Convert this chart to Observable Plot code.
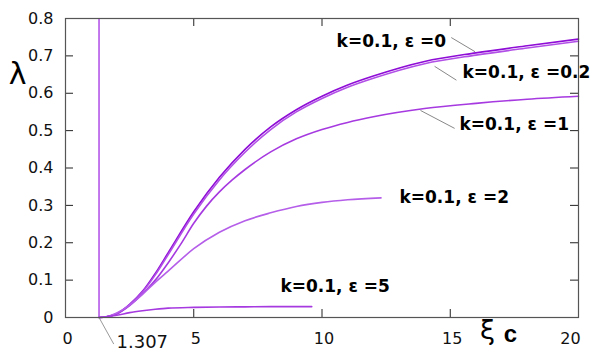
<!DOCTYPE html>
<html><head><meta charset="utf-8">
<script src="https://cdn.jsdelivr.net/npm/d3@7"></script>
<script src="https://cdn.jsdelivr.net/npm/@observablehq/plot@0.6"></script>
<style>body{margin:0;background:#fff} svg{display:block}</style>
</head><body><div id="chart"></div>
<script>
// ---- data ----
const xiC0 = 1.307; // critical value marked on the axis
const xi_e0   = [1.307, 1.6, 2, 2.5, 3, 3.5, 4, 5, 6, 7, 8, 9, 10, 11, 12, 14, 16, 18, 20];
const lam_e0  = [0, 0.002, 0.010, 0.035, 0.070, 0.118, 0.173, 0.283, 0.375, 0.450, 0.510, 0.556, 0.592, 0.622, 0.646, 0.685, 0.708, 0.727, 0.745];
const xi_e02  = [1.307, 1.6, 2, 2.5, 3, 3.5, 4, 5, 6, 7, 8, 9, 10, 11, 12, 14, 16, 18, 20];
const lam_e02 = [0, 0.002, 0.010, 0.034, 0.068, 0.114, 0.168, 0.277, 0.368, 0.442, 0.503, 0.550, 0.586, 0.616, 0.640, 0.679, 0.702, 0.721, 0.739];
const xi_e1   = [1.307, 1.6, 2, 2.5, 3, 3.5, 4, 4.5, 5, 5.5, 6, 6.5, 7, 8, 9, 10, 11, 12, 14, 16, 18, 20];
const lam_e1  = [0, 0.002, 0.010, 0.032, 0.063, 0.100, 0.146, 0.197, 0.252, 0.298, 0.336, 0.368, 0.396, 0.443, 0.478, 0.503, 0.522, 0.537, 0.559, 0.573, 0.584, 0.592];
const xi_e2   = [1.307, 1.6, 2, 2.5, 3, 3.5, 4, 5, 6, 7, 8, 9, 10, 11, 12.3];
const lam_e2  = [0, 0.002, 0.012, 0.033, 0.062, 0.094, 0.124, 0.184, 0.228, 0.259, 0.280, 0.297, 0.308, 0.315, 0.320];
const xi_e5   = [1.307, 2, 2.5, 3, 3.5, 4, 5, 6, 7, 8, 9.6];
const lam_e5  = [0, 0.006, 0.013, 0.018, 0.022, 0.025, 0.027, 0.028, 0.0285, 0.029, 0.029];

const seriesNames = ["ε=0", "ε=0.2", "ε=1", "ε=2", "ε=5"];
const labelTexts = ["k=0.1, ε =0", "k=0.1, ε =0.2", "k=0.1, ε =1", "k=0.1, ε =2", "k=0.1, ε =5"];
const xTicks = [0, 5, 10, 15, 20];
const yTicks = [0, 0.1, 0.2, 0.3, 0.4, 0.5, 0.6, 0.7, 0.8];

// ---- annotation anchors (data coordinates) ----
const labelXi  = [10.57, 15.48, 15.36, 13.02, 8.38];
const labelLam = [0.739, 0.656, 0.517, 0.321, 0.082];
const leaders = [
  {x1: 15.04, y1: 0.749, x2: 15.97, y2: 0.711},
  {x1: 14.39, y1: 0.672, x2: 15.24, y2: 0.635},
  {x1: 13.84, y1: 0.554, x2: 15.17, y2: 0.506}
];

// ---- build tables ----
const xis = [xi_e0, xi_e02, xi_e1, xi_e2, xi_e5];
const lams = [lam_e0, lam_e02, lam_e1, lam_e2, lam_e5];
const rows = [];
seriesNames.forEach((s, i) => xis[i].forEach((x, j) => rows.push({series: s, xi: x, lam: lams[i][j]})));
const labels = labelTexts.map((t, i) => ({text: t, xi: labelXi[i], lam: labelLam[i]}));

const colors = ["#8e0cd6", "#b14fe6", "#a63ae0", "#b55ee9", "#a63ae0"];
const W = 598, H = 356, ML = 65, MR = 20, MT = 18, MB = 39;
const innerW = W - ML - MR, innerH = H - MT - MB;
const TL = 8;
const tickFont = "DejaVu Sans, Verdana, sans-serif";

const plot = Plot.plot({
  width: W, height: H,
  marginLeft: ML, marginRight: MR, marginTop: MT, marginBottom: MB,
  style: {background: "#fff", color: "#111", fontFamily: tickFont},
  x: {domain: [0, 20]},
  y: {domain: [0, 0.8]},
  color: {domain: seriesNames, range: colors},
  marks: [
    // tick labels
    Plot.axisY({ticks: yTicks, tickSize: 0, tickPadding: 12, fontSize: 16, label: null,
      tickFormat: d => d === 0 ? "0" : d.toFixed(1)}),
    Plot.axisX({ticks: xTicks.slice(0, 4), tickSize: 0, tickPadding: 15, fontSize: 16, label: null,
      tickFormat: d => String(d), dx: 2}),
    Plot.axisX({ticks: xTicks.slice(4), tickSize: 0, tickPadding: 15, fontSize: 16, label: null,
      tickFormat: d => String(d), dx: -8}),
    // inner ticks
    Plot.tickX(xTicks.slice(1, 4), {x: d => d, insetTop: innerH - TL, stroke: "#222"}),
    Plot.tickX(xTicks.slice(1, 4), {x: d => d, insetBottom: innerH - TL, stroke: "#222"}),
    Plot.tickY(yTicks.slice(1, 8), {y: d => d, insetRight: innerW - TL, stroke: "#222"}),
    Plot.tickY(yTicks.slice(1, 8), {y: d => d, insetLeft: innerW - TL, stroke: "#222"}),
    // critical line
    Plot.ruleX([xiC0], {x: d => d, y1: yTicks[0], y2: yTicks[yTicks.length - 1], stroke: "#9a1ee0", strokeWidth: 1.2}),
    // curves
    Plot.line(rows, {x: "xi", y: "lam", z: "series", stroke: "series", strokeWidth: 1.6, curve: "monotone-x"}),
    // leader lines
    Plot.link(leaders, {x1: "x1", y1: "y1", x2: "x2", y2: "y2", stroke: "#888", strokeWidth: 1}),
    Plot.link([{x1: xiC0, y1: 0, x2: 1.88, y2: -0.071}], {x1: "x1", y1: "y1", x2: "x2", y2: "y2", stroke: "#999", strokeWidth: 1, clip: false}),
    // curve labels
    Plot.text(labels, {x: "xi", y: "lam", text: "text", textAnchor: "start", fontSize: 17, fontWeight: "bold",
      fontFamily: "DejaVu Sans, Verdana, sans-serif", fill: "#000", ariaLabel: "curve-labels"}),
    Plot.text([String(xiC0)], {x: 1.99, y: -0.067, text: d => d, textAnchor: "start", fontSize: 18, fill: "#111", clip: false}),
    // axis titles
    Plot.text(["λ"], {frameAnchor: "top-left", dx: -48, dy: 56, textAnchor: "middle", lineAnchor: "middle",
      text: d => d, fontSize: 30, fill: "#000", fontFamily: "DejaVu Sans, sans-serif"}),
    Plot.text(["ξ"], {x: 16.45, frameAnchor: "bottom", dy: 21, text: d => d, fontSize: 27, fill: "#000",
      fontFamily: "DejaVu Sans, sans-serif"}),
    Plot.text(["c"], {x: 17.35, frameAnchor: "bottom", dy: 24, text: d => d, fontSize: 24, fontWeight: "bold", fill: "#000",
      fontFamily: "Liberation Sans, Arial, sans-serif"}),
    Plot.frame({stroke: "#555", strokeWidth: 1.2})
  ]
});

// italic epsilon in the labels
d3.select(plot).selectAll('g[aria-label="curve-labels"] text').each(function() {
  const t = this.textContent;
  const parts = t.split("ε");
  const sel = d3.select(this);
  sel.text(null);
  sel.append("tspan").text(parts[0]);
  sel.append("tspan").text("ε").attr("font-style", "italic").attr("font-weight", "normal")
     .attr("font-family", "DejaVu Serif, serif");
  sel.append("tspan").text(parts[1]);
});
document.getElementById("chart").appendChild(plot);
</script>
</body></html>
